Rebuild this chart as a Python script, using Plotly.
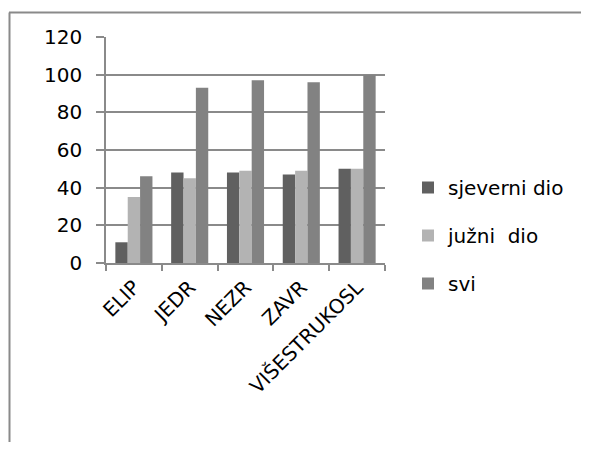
import plotly.graph_objects as go

categories = ["ELIP", "JEDR", "NEZR", "ZAVR", "VIŠESTRUKOSL"]
sjeverni = [11, 48, 48, 47, 50]
juzni = [35, 45, 49, 49, 50]
svi = [46, 93, 97, 96, 100]
series_names = ["sjeverni dio", "južni  dio", "svi"]
colors = ["#606060", "#b3b3b3", "#828282"]
y_ticks = [0, 20, 40, 60, 80, 100, 120]

font_family = "DejaVu Sans, sans-serif"

fig = go.Figure()
for i, (name, vals) in enumerate(zip(series_names, [sjeverni, juzni, svi])):
    fig.add_trace(go.Bar(
        x=categories, y=vals, name=name, marker_color=colors[i],
        marker_line_width=0, legendgroup=f"g{i}",
    ))

# page has an 8px body margin; figure coordinates = page coordinates - 8
W, H = 573, 434
L, R, T, B = 98, 196, 29, 179
pw = W - L - R
ph = H - T - B

def px_to_paper_x(px):
    return (px - L) / pw

def px_to_paper_y(py):
    return (H - B - py) / ph

line_col = "#8a8a8a"

fig.update_layout(
    width=W, height=H,
    margin=dict(l=L, r=R, t=T, b=B),
    paper_bgcolor="white", plot_bgcolor="white",
    barmode="group", bargap=0.335, bargroupgap=0,
    font=dict(family=font_family, size=20, color="#000000"),
    showlegend=True,
    legend=dict(
        x=px_to_paper_x(400), y=px_to_paper_y(160), xanchor="left", yanchor="top",
        font=dict(size=20), tracegroupgap=19, itemwidth=30,
        bgcolor="rgba(0,0,0,0)",
    ),
    xaxis=dict(
        type="category", tickangle=-45, showgrid=False,
        showline=True, linecolor=line_col, linewidth=1.5,
        ticks="outside", tickson="boundaries", ticklen=6, tickcolor=line_col,
        tickwidth=1.5, tickfont=dict(size=20), ticklabelstandoff=3,
    ),
    yaxis=dict(
        range=[0, 120], tickvals=y_ticks, showgrid=True, gridcolor=line_col,
        gridwidth=1.5, showline=True, linecolor=line_col, linewidth=1.5,
        ticks="outside", ticklen=8, tickcolor=line_col, tickwidth=1.5,
        tickfont=dict(size=20), zeroline=False, ticklabelstandoff=10,
    ),
    shapes=[
        dict(type="line", xref="paper", yref="paper",
             x0=px_to_paper_x(1), x1=px_to_paper_x(600),
             y0=px_to_paper_y(4.5), y1=px_to_paper_y(4.5),
             line=dict(color="#8a8a8a", width=2)),
        dict(type="line", xref="paper", yref="paper",
             x0=px_to_paper_x(1.5), x1=px_to_paper_x(1.5),
             y0=px_to_paper_y(4.5), y1=px_to_paper_y(460),
             line=dict(color="#8a8a8a", width=2)),
    ],
)

fig.write_html("out.html")
